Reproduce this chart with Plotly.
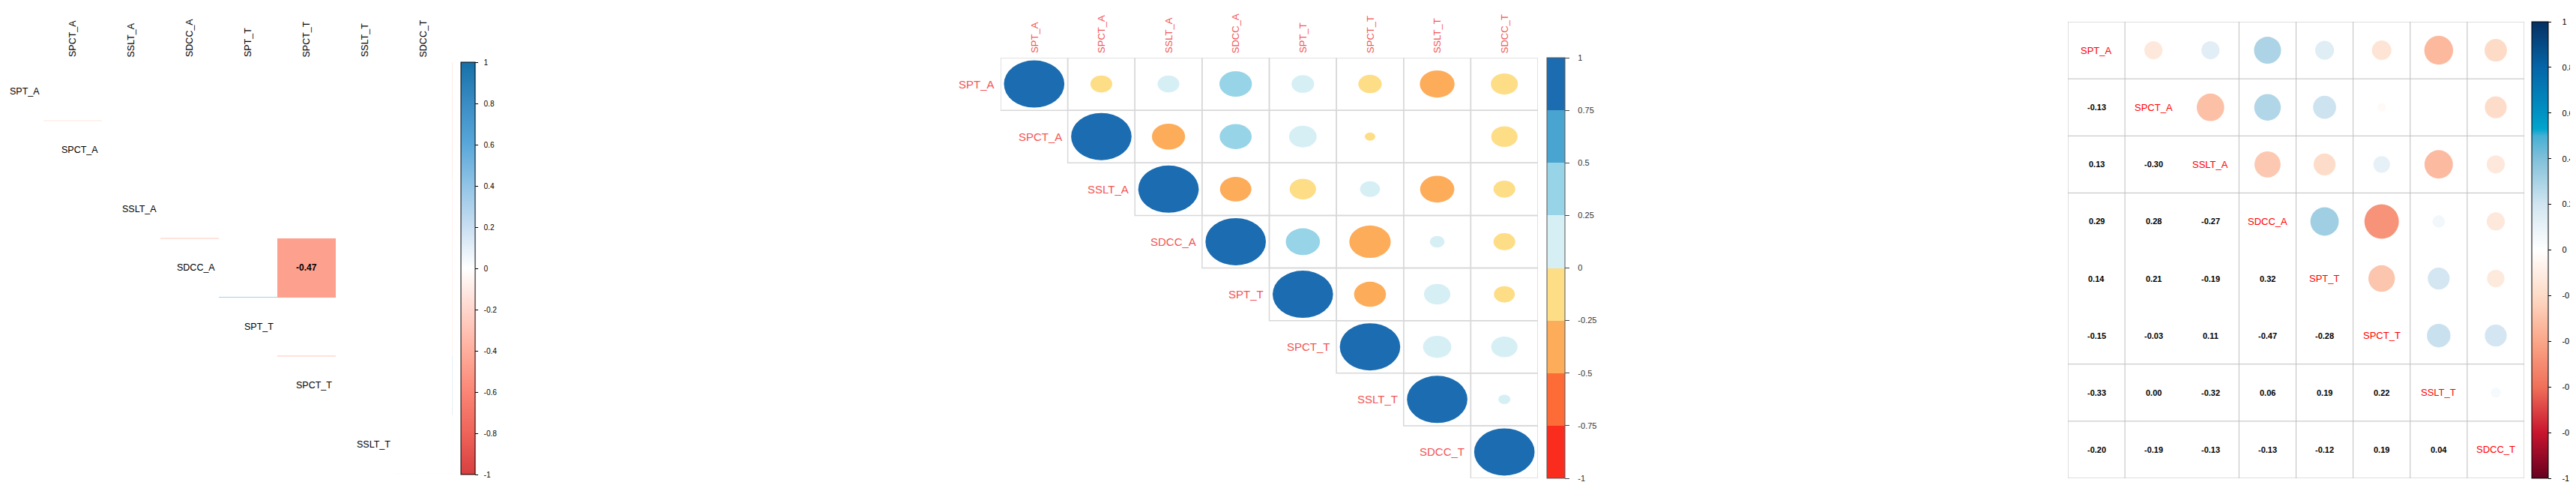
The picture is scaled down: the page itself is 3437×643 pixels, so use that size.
import plotly.graph_objects as go

# ---------------- data ----------------
variables = ["SPT_A", "SPCT_A", "SSLT_A", "SDCC_A", "SPT_T", "SPCT_T", "SSLT_T", "SDCC_T"]
corr_lower = [
    [],
    [-0.13],
    [0.13, -0.30],
    [0.29, 0.28, -0.27],
    [0.14, 0.21, -0.19, 0.32],
    [-0.15, -0.03, 0.11, -0.47, -0.28],
    [-0.33, 0.00, -0.32, 0.06, 0.19, 0.22],
    [-0.20, -0.19, -0.13, -0.13, -0.12, 0.19, 0.04],
]
significant_pairs = [("SDCC_A", "SPCT_T")]

left_tick_vals = [-1, -0.8, -0.6, -0.4, -0.2, 0, 0.2, 0.4, 0.6, 0.8, 1]
left_tick_text = ["-1", "-0.8", "-0.6", "-0.4", "-0.2", "0", "0.2", "0.4", "0.6", "0.8", "1"]
mid_tick_vals = [-1, -0.75, -0.5, -0.25, 0, 0.25, 0.5, 0.75, 1]
mid_tick_text = ["-1", "-0.75", "-0.5", "-0.25", "0", "0.25", "0.5", "0.75", "1"]
right_tick_vals = left_tick_vals
right_tick_text = left_tick_text

# ---------------- styles ----------------
W, H = 3437, 643
FONT = "Liberation Sans, Arial, Helvetica, sans-serif"
n = len(variables)
C = [[1.0] * n for _ in range(n)]
for i, row in enumerate(corr_lower):
    for j, v in enumerate(row):
        C[i][j] = v
        C[j][i] = v

left_scale = [(0.0, "#D73F3F"), (0.1, "#EE6359"), (0.2, "#FB8575"), (0.3, "#FFAE9C"),
              (0.4, "#FFD6CC"), (0.5, "#FFFFFF"), (0.6, "#C9DFF2"), (0.7, "#92C4E6"),
              (0.8, "#5AA8DA"), (0.9, "#3A8CC4"), (1.0, "#1671A8")]
right_scale = [(0.0, "#67001F"), (0.1, "#C8152E"), (0.2, "#F0705A"), (0.3, "#FBA688"),
               (0.4, "#FDDBC7"), (0.5, "#FFFFFF"), (0.6, "#D1E5F0"), (0.7, "#80C0DA"),
               (0.75, "#45B0D4"), (0.765, "#00A5CE"), (0.8, "#0092C3"), (0.9, "#0565A8"),
               (1.0, "#053061")]
mid_bands = ["#F92C1E", "#FD6B36", "#FDAC5A", "#FEDD87", "#D6EFF5", "#97D4E7", "#4AA4D0", "#1B6CB1"]
mid_scale = []
for k, c in enumerate(mid_bands):
    mid_scale.append([k / 8, c])
    mid_scale.append([(k + 1) / 8, c])


def hex2rgb(h):
    h = h.lstrip("#")
    return tuple(int(h[i:i + 2], 16) for i in (0, 2, 4))


def sample(scale, v):
    t = (v + 1) / 2
    for (p0, c0), (p1, c1) in zip(scale[:-1], scale[1:]):
        if p0 <= t <= p1:
            f = 0 if p1 == p0 else (t - p0) / (p1 - p0)
            a, b = hex2rgb(c0), hex2rgb(c1)
            return "rgb(%d,%d,%d)" % tuple(round(a[i] + (b[i] - a[i]) * f) for i in range(3))
    return scale[-1][1]


def xdom(a, b):
    return [a / W, b / W]


def ydom(top, bottom):
    return [1 - bottom / H, 1 - top / H]


fig = go.Figure()
shapes = []
annotations = []

# ---------------- left panel: significant-only heatmap ----------------
sig = set()
for a, b in significant_pairs:
    sig.add((variables.index(a), variables.index(b)))
    sig.add((variables.index(b), variables.index(a)))
m = n - 1
zL = [[None] * m for _ in range(m)]
for i in range(m):
    for j in range(i, m):
        if (i, j + 1) in sig:
            zL[i][j] = C[i][j + 1]
            annotations.append(dict(x=j, y=i, xref="x", yref="y", text="<b>%.2f</b>" % C[i][j + 1],
                                    showarrow=False, font=dict(family=FONT, size=12, color="black")))
fig.add_trace(go.Heatmap(
    z=zL, x=list(range(m)), y=list(range(m)), xaxis="x", yaxis="y",
    colorscale=[[p, c] for p, c in left_scale], zmin=-1, zmax=1, hoverinfo="skip",
    colorbar=dict(thickness=19, thicknessmode="pixels", len=550, lenmode="pixels",
                  x=607 / W, xanchor="left", y=1 - 75 / H, yanchor="top", xpad=0, ypad=0,
                  outlinecolor="black", outlinewidth=1, ticks="outside", ticklen=4, tickcolor="black",
                  tickvals=left_tick_vals, ticktext=["\u00a0\u00a0" + t for t in left_tick_text],
                  tickfont=dict(family=FONT, size=10, color="black")),
))
# faint cell-edge slivers of the hidden cells
for i in [0, 2, 3, 4, 6]:
    shapes.append(dict(type="line", xref="x", yref="y", x0=i - 0.5, x1=i + 0.5, y0=i + 0.5, y1=i + 0.5,
                       line=dict(color=sample(left_scale, C[i][i + 1]), width=1)))
for i in range(m):
    shapes.append(dict(type="line", xref="x", yref="y", x0=m - 0.5, x1=m - 0.5, y0=i - 0.5, y1=i + 0.5,
                       line=dict(color=sample(left_scale, C[i][m]), width=1)))
for j in range(m):
    annotations.append(dict(x=j, y=-0.5, xref="x", yref="y", text=variables[j + 1], textangle=-90,
                            yanchor="bottom", yshift=5, showarrow=False, borderpad=0,
                            font=dict(family=FONT, size=12.5, color="black")))
for i in range(m):
    annotations.append(dict(x=i - 0.5, y=i, xref="x", yref="y", text=variables[i], xanchor="right",
                            xshift=-4, showarrow=False, borderpad=0,
                            font=dict(family=FONT, size=12.5, color="black")))

# ---------------- middle panel: discrete circles ----------------
for i in range(n):
    for j in range(i, n):
        shapes.append(dict(type="rect", xref="x2", yref="y2", x0=j - 0.5, x1=j + 0.5, y0=i - 0.5, y1=i + 0.5,
                           line=dict(color="#D8D8D8", width=1.5), fillcolor="rgba(0,0,0,0)", layer="below"))
for i in range(n):
    for j in range(i, n):
        v = C[i][j]
        r = 0.45 * abs(v) ** 0.5
        if r <= 0:
            continue
        band = min(7, int((v + 1) // 0.25))
        shapes.append(dict(type="circle", xref="x2", yref="y2", x0=j - r, x1=j + r, y0=i - r, y1=i + r,
                           fillcolor=mid_bands[band], line=dict(width=0)))
MIDRED = "#F25454"
for j in range(n):
    annotations.append(dict(x=j, y=-0.5, xref="x2", yref="y2", text=variables[j], textangle=-90,
                            yanchor="bottom", yshift=5, showarrow=False, borderpad=0,
                            font=dict(family=FONT, size=13, color=MIDRED)))
for i in range(n):
    annotations.append(dict(x=i - 0.5, y=i, xref="x2", yref="y2", text=variables[i], xanchor="right",
                            xshift=-7, showarrow=False, borderpad=0,
                            font=dict(family=FONT, size=15, color=MIDRED)))
fig.add_trace(go.Scatter(
    x=[0, 0], y=[0, 0], xaxis="x2", yaxis="y2", mode="markers", hoverinfo="skip", showlegend=False,
    marker=dict(size=1, opacity=0, color=[-1, 1], cmin=-1, cmax=1, colorscale=mid_scale, showscale=True,
                colorbar=dict(thickness=24, thicknessmode="pixels", len=561, lenmode="pixels",
                              x=2056 / W, xanchor="left", y=1 - 69 / H, yanchor="top", xpad=0, ypad=0,
                              outlinecolor="#555555", outlinewidth=1, ticks="outside", ticklen=6,
                              tickcolor="#444444", tickvals=mid_tick_vals,
                              ticktext=["\u00a0\u00a0\u00a0" + t for t in mid_tick_text],
                              tickfont=dict(family=FONT, size=11, color="#333333"))),
))

# ---------------- right panel: mixed numbers / circles ----------------
hidden_v = [2]
hidden_h = [4, 5]
for k in range(n + 1):
    if k not in hidden_v:
        shapes.append(dict(type="line", xref="x3", yref="y3", x0=k - 0.5, x1=k - 0.5, y0=-0.5, y1=n - 0.5,
                           line=dict(color="#BEBEBE", width=1), layer="below"))
    if k not in hidden_h:
        shapes.append(dict(type="line", xref="x3", yref="y3", x0=-0.5, x1=n - 0.5, y0=k - 0.5, y1=k - 0.5,
                           line=dict(color="#BEBEBE", width=1), layer="below"))
for i in range(n):
    for j in range(n):
        v = C[i][j]
        if j > i:
            r = 0.44 * abs(v) ** 0.5
            if r > 0:
                shapes.append(dict(type="circle", xref="x3", yref="y3", x0=j - r, x1=j + r, y0=i - r, y1=i + r,
                                   fillcolor=sample(right_scale, v), line=dict(width=0)))
        elif j < i:
            annotations.append(dict(x=j, y=i, xref="x3", yref="y3", text="<b>%.2f</b>" % v, showarrow=False,
                                    font=dict(family=FONT, size=11, color="black")))
        else:
            annotations.append(dict(x=j, y=i, xref="x3", yref="y3", text=variables[i], showarrow=False,
                                    font=dict(family=FONT, size=13, color="#FF0000")))
fig.add_trace(go.Scatter(
    x=[0, 0], y=[0, 0], xaxis="x3", yaxis="y3", mode="markers", hoverinfo="skip", showlegend=False,
    marker=dict(size=1, opacity=0, color=[-1, 1], cmin=-1, cmax=1,
                colorscale=[[p, c] for p, c in right_scale], showscale=True,
                colorbar=dict(thickness=22, thicknessmode="pixels", len=609, lenmode="pixels",
                              x=3370 / W, xanchor="left", y=1 - 21 / H, yanchor="top", xpad=0, ypad=0,
                              outlinecolor="black", outlinewidth=1, ticks="outside", ticklen=4,
                              tickcolor="black", tickvals=right_tick_vals,
                              ticktext=["\u00a0\u00a0\u00a0\u00a0" + t for t in right_tick_text],
                              tickfont=dict(family=FONT, size=11, color="black"))),
))

ax = dict(showgrid=False, zeroline=False, showticklabels=False, ticks="", showline=False, fixedrange=True)
fig.update_layout(
    width=W, height=H, margin=dict(l=0, r=0, t=0, b=0),
    paper_bgcolor="white", plot_bgcolor="rgba(0,0,0,0)", showlegend=False,
    xaxis=dict(ax, domain=xdom(50, 596), range=[-0.5, m - 0.5]),
    yaxis=dict(ax, domain=ydom(74.5, 624), range=[m - 0.5, -0.5]),
    xaxis2=dict(ax, domain=xdom(1327, 2044), range=[-0.5, n - 0.5]),
    yaxis2=dict(ax, domain=ydom(69, 630), range=[n - 0.5, -0.5]),
    xaxis3=dict(ax, domain=xdom(2751, 3360), range=[-0.5, n - 0.5]),
    yaxis3=dict(ax, domain=ydom(21, 630), range=[n - 0.5, -0.5]),
    shapes=shapes, annotations=annotations,
)
fig.write_html("out.html")
